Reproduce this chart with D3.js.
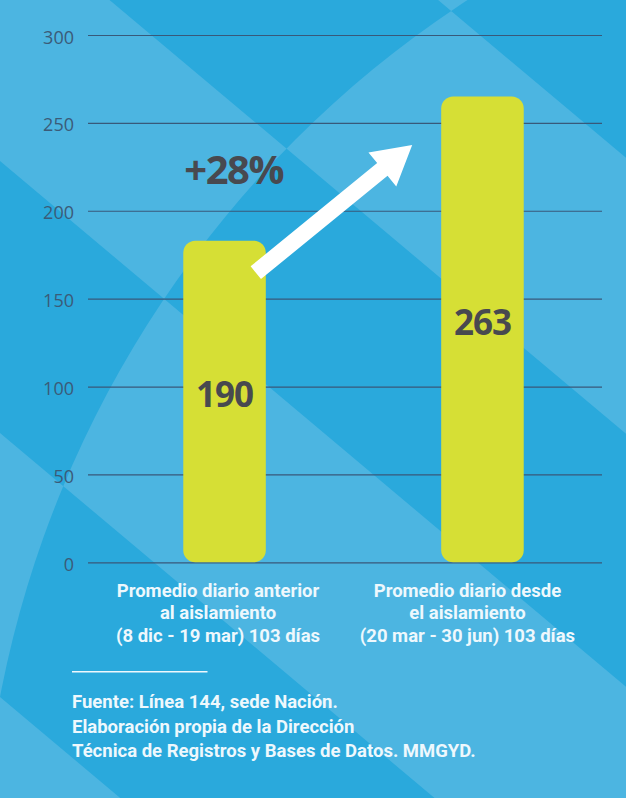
<!DOCTYPE html>
<html>
<head>
<meta charset="utf-8">
<script src="https://cdn.jsdelivr.net/npm/d3@7"></script>
<style>
  html, body { margin: 0; padding: 0; background: #4cb5e1; }
  svg { display: block; }
</style>
</head>
<body>
<svg id="chart" width="626" height="798"></svg>
<script>
// ---------------- DATA ----------------
const categoryLabels = [
  ["Promedio diario anterior", "al aislamiento", "(8 dic - 19 mar) 103 días"],
  ["Promedio diario desde", "el aislamiento", "(20 mar - 30 jun) 103 días"]
];
const categories = categoryLabels.map(l => l.join(" "));
const barValues = [183, 265];          // bar heights as drawn on the y axis
const valueLabels = ["190", "263"];    // numbers printed inside the bars
const yTicks = [0, 50, 100, 150, 200, 250, 300];
const changeLabel = "+28%";
const sourceLines = [
  "Fuente: Línea 144, sede Nación.",
  "Elaboración propia de la Dirección",
  "Técnica de Registros y Bases de Datos. MMGYD."
];

// ---------------- LAYOUT / STYLE ----------------
const W = 626, H = 798;
const gridLeft = 88, gridRight = 602;
const lightBlue = "#4cb5e1", darkBlue = "#2aa9dc";
const barColor = "#d6df35";
const gridColor = "#38597a";
const tickColor = "#3b5b78";
const valueColor = "#48494f";
const textLight = "#eef8fd";

const svg = d3.select("#chart");

// background pattern (evenodd XOR of half-planes and a large circle)
const slope = 0.84;
const stripeIntercepts = [-368, -92, 161, 433, 697];
let bgPath = "";
stripeIntercepts.forEach(b => {
  const x0 = -50, x1 = W + 50;
  bgPath += `M${x0},${b + slope * x0}L${x1},${b + slope * x1}L${x1},${H + 400}L${x0},${H + 400}Z`;
});
const cx = 1053, cy = 898, r = 1072;
bgPath += `M${cx - r},${cy}A${r},${r} 0 1,0 ${cx + r},${cy}A${r},${r} 0 1,0 ${cx - r},${cy}Z`;
svg.append("rect").attr("width", W).attr("height", H).attr("fill", lightBlue);
svg.append("path").attr("d", bgPath).attr("fill", darkBlue).attr("fill-rule", "evenodd");

// scales
const x = d3.scaleBand().domain(categories).range([93, 614]).paddingInner(0.68).paddingOuter(0.35);
const y = d3.scaleLinear().domain([0, 300]).range([562.3, 35]);

// y axis with gridlines
const yAxis = d3.axisLeft(y).tickValues(yTicks).tickSize(-(gridRight - gridLeft)).tickPadding(14).tickFormat(d3.format("d"));
const gAxis = svg.append("g").attr("transform", `translate(${gridLeft},0)`).call(yAxis);
gAxis.select(".domain").remove();
gAxis.selectAll(".tick line").attr("stroke", gridColor).attr("stroke-width", 1.2);
gAxis.selectAll(".tick text")
  .attr("fill", tickColor)
  .attr("font-family", "'Open Sans', sans-serif")
  .attr("font-size", 18)
  .attr("dy", "0.45em");

// bars
svg.append("g").selectAll("rect")
  .data(barValues)
  .join("rect")
  .attr("x", (d, i) => x(categories[i]))
  .attr("y", d => y(d))
  .attr("width", x.bandwidth())
  .attr("height", d => y(0) - y(d))
  .attr("rx", 12).attr("ry", 12)
  .attr("fill", barColor);

// value labels inside bars
svg.append("g").selectAll("text")
  .data(barValues)
  .join("text")
  .attr("x", (d, i) => x(categories[i]) + x.bandwidth() / 2)
  .attr("y", d => (y(d) + y(0)) / 2 + 6)
  .attr("text-anchor", "middle")
  .attr("font-family", "'Open Sans', sans-serif")
  .attr("font-weight", 700)
  .attr("font-size", 35)
  .attr("letter-spacing", -1)
  .attr("fill", valueColor)
  .text((d, i) => valueLabels[i]);

// arrow between bars
const tail = [x(categories[0]) + x.bandwidth() - 10, y(barValues[0]) + 32];
const tip = [x(categories[1]) - 29, y(barValues[1]) + 48.6];
const dx = tip[0] - tail[0], dy = tip[1] - tail[1];
const L = Math.hypot(dx, dy);
const ang = Math.atan2(dy, dx) * 180 / Math.PI;
const sw = 8.2, hw = 22, hl = 38.5;
const arrowPts = [[0, -sw], [L - hl, -sw], [L - hl, -hw], [L, 0], [L - hl, hw], [L - hl, sw], [0, sw]];
svg.append("path")
  .attr("d", d3.line()(arrowPts) + "Z")
  .attr("transform", `translate(${tail[0]},${tail[1]}) rotate(${ang})`)
  .attr("fill", "#ffffff");

// change annotation
svg.append("text")
  .attr("x", x(categories[0]) + 1)
  .attr("y", y(barValues[0]) - 57)
  .attr("font-family", "'Open Sans', sans-serif")
  .attr("font-weight", 700)
  .attr("font-size", 40)
  .attr("letter-spacing", -1.5)
  .attr("fill", valueColor)
  .text(changeLabel);

// category labels
const labelOffsets = [-6.5, -15];
const catG = svg.append("g");
categoryLabels.forEach((lines, i) => {
  const t = catG.append("text")
    .attr("text-anchor", "middle")
    .attr("font-family", "Roboto, sans-serif")
    .attr("font-weight", 700)
    .attr("font-size", 18.5)
    .attr("fill", textLight);
  lines.forEach((ln, j) => {
    t.append("tspan")
      .attr("x", x(categories[i]) + x.bandwidth() / 2 + labelOffsets[i])
      .attr("y", y(0) + 34.5 + j * 22.5)
      .text(ln);
  });
});

// separator line
svg.append("line")
  .attr("x1", 72).attr("x2", 207.5)
  .attr("y1", 671.8).attr("y2", 671.8)
  .attr("stroke", textLight).attr("stroke-width", 1.5);

// source text
const src = svg.append("text")
  .attr("font-family", "Roboto, sans-serif")
  .attr("font-weight", 700)
  .attr("font-size", 18.5)
  .attr("fill", textLight);
sourceLines.forEach((ln, j) => {
  src.append("tspan").attr("x", 72).attr("y", 708.3 + j * 24.5).text(ln);
});
</script>
</body>
</html>
